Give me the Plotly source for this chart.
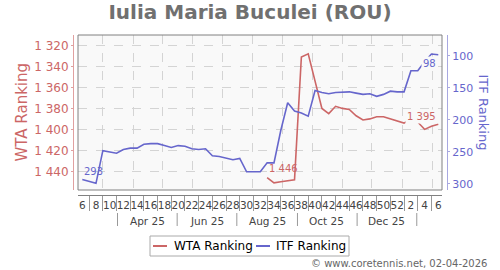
import datetime as dt
import plotly.graph_objects as go

# ---------------- data ----------------
week_labels = list(range(6, 53)) + list(range(1, 7))
itf_ranking = [293, 296, 299, 248, 250, 252, 246, 244, 244, 238, 237, 237, 240,
               243, 240, 241, 245, 246, 245, 256, 257, 259, 262, 260, 281, 281,
               281, 267, 267, 216, 173, 186, 189, 194, 154, 157, 159, 157, 157,
               156, 158, 160, 159, 163, 160, 155, 156, 156, 123, 123, 109, 97, 98]
wta_ranking = [None] * 27 + [1446, 1451, 1450, 1449, 1448, 1331, 1328, 1354, 1380,
                             1385, 1378, 1380, 1381, 1387, 1391, 1390, 1388, 1388,
                             1390, 1392, 1394, 1390, 1393, 1400, 1397, 1395]
month_labels = ["Apr 25", "Jun 25", "Aug 25", "Oct 25", "Dec 25"]
wta_ticks = [1320, 1340, 1360, 1380, 1400, 1420, 1440]
itf_ticks = [100, 150, 200, 250, 300]

first_week = dt.date(2025, 2, 8)
dates = [first_week + dt.timedelta(days=7 * i) for i in range(len(week_labels))]

# ---------------- style ----------------
RED = "#cc6666"
BLUE = "#6666cc"
RED_AX = "#e0a0a0"
BLUE_AX = "#a8a8e0"
GRID = "#d4d4d4"
FRAME = "#808080"
TXT = "#444444"
FONT = "DejaVu Sans"

W, H = 500, 270
ML, MR, MT, MB = 73, 53, 35, 75
PW, PH = W - ML - MR, H - MT - MB


def px(x):
    return (x - ML) / PW


def py(y):
    return (H - MB - y) / PH


def fmt(v):
    return f"{v:,}".replace(",", " ")


fig = go.Figure()
fig.add_trace(go.Scatter(x=dates, y=wta_ranking, mode="lines", name="WTA Ranking",
                         line=dict(color=RED, width=1.6), yaxis="y", showlegend=False,
                         connectgaps=False))
fig.add_trace(go.Scatter(x=dates, y=itf_ranking, mode="lines", name="ITF Ranking",
                         line=dict(color=BLUE, width=1.6), yaxis="y2", showlegend=False))
# invisible trace on overlay axis to carry the monthly grid
fig.add_trace(go.Scatter(x=[dates[0], dates[-1]], y=[None, None], xaxis="x2",
                         showlegend=False, hoverinfo="skip"))

x_range = [dt.datetime(2025, 2, 3, 14, 24), dt.datetime(2026, 2, 10, 19, 12)]

even_idx = list(range(0, len(dates), 2))
odd_idx = list(range(1, len(dates), 2))

month_starts = []
y_, m_ = 2025, 3
while (y_, m_) <= (2026, 2):
    month_starts.append(dt.date(y_, m_, 1))
    m_ += 1
    if m_ > 12:
        m_, y_ = 1, y_ + 1

sep_dates = [dt.date(2025, 3, 16), dt.date(2025, 5, 16), dt.date(2025, 7, 16),
             dt.date(2025, 9, 16), dt.date(2025, 11, 16), dt.date(2026, 1, 16)]
label_dates = [dt.date(2025, 4, 16), dt.date(2025, 6, 16), dt.date(2025, 8, 16),
               dt.date(2025, 10, 16), dt.date(2025, 12, 16)]

fig.update_layout(
    width=W, height=H,
    margin=dict(l=ML, r=MR, t=MT, b=MB, pad=0),
    paper_bgcolor="white", plot_bgcolor="#f9f9f9",
    font=dict(family=FONT, size=11, color=TXT),
    separators=". ",
    title=dict(text="Iulia Maria Buculei (ROU)", x=0.5, xref="container", xanchor="center",
               y=1 - 12 / H, yref="container", yanchor="middle",
               font=dict(family=FONT, size=20, color="#707070", weight="bold")),
    xaxis=dict(type="date", range=x_range, domain=[px(78), px(442)],
               anchor="free", position=0,
               tickmode="array", tickvals=[dates[i] for i in even_idx],
               ticktext=[str(week_labels[i]) for i in even_idx],
               tickangle=0, ticks="", showgrid=False, zeroline=False,
               showline=True, linecolor=FRAME, linewidth=1,
               tickfont=dict(size=10.5, color=TXT),
               minor=dict(tickmode="array", tickvals=[dates[i] for i in odd_idx],
                          ticks="outside", ticklen=15, tickcolor="#999999", tickwidth=1,
                          showgrid=False)),
    xaxis2=dict(type="date", range=x_range, overlaying="x", anchor="y",
                tickmode="array", tickvals=month_starts, showticklabels=False,
                ticks="", showgrid=True, gridcolor=GRID, griddash="dash", gridwidth=1,
                showline=False, zeroline=False),
    yaxis=dict(range=[1457.8, 1310], domain=[py(190), 1], anchor="free", position=0,
               tickmode="array", tickvals=wta_ticks, tickformat=",d",
               showgrid=True, gridcolor=GRID, griddash="dash", gridwidth=1,
               zeroline=False, showline=True, linecolor=RED_AX, linewidth=1,
               ticks="outside", ticklen=2, tickcolor=RED_AX,
               tickfont=dict(size=12, color=RED)),
    yaxis2=dict(range=[309.4, 67.2], overlaying="y", side="right", anchor="free",
                position=1, tickmode="array", tickvals=itf_ticks,
                showgrid=False, zeroline=False, showline=True, linecolor=BLUE_AX,
                linewidth=1, ticks="outside", ticklen=2, tickcolor=BLUE_AX,
                tickfont=dict(size=11, color=BLUE)),
)

shapes = [
    dict(type="rect", xref="x domain", yref="y domain", x0=0, x1=1, y0=0, y1=1,
         line=dict(color=FRAME, width=1), fillcolor="rgba(0,0,0,0)"),
]
for d in sep_dates:
    shapes.append(dict(type="line", xref="x", yref="paper", x0=d, x1=d,
                       y0=py(226), y1=py(213), line=dict(color="#999999", width=1)))
# legend box
shapes.append(dict(type="rect", xref="paper", yref="paper", x0=px(150), x1=px(349),
                   y0=py(256), y1=py(236), line=dict(color="#aaaaaa", width=1),
                   fillcolor="white"))
shapes.append(dict(type="line", xref="paper", yref="paper", x0=px(153), x1=px(167),
                   y0=py(246), y1=py(246), line=dict(color=RED, width=2)))
shapes.append(dict(type="line", xref="paper", yref="paper", x0=px(256), x1=px(270),
                   y0=py(246), y1=py(246), line=dict(color=BLUE, width=2)))

annotations = []
for d, lab in zip(label_dates, month_labels):
    annotations.append(dict(x=d, xref="x", y=py(220.7), yref="paper", text=lab,
                            showarrow=False, xanchor="center", yanchor="middle",
                            font=dict(size=10.5, color=TXT)))
annotations += [
    dict(x=px(21), y=py(112.5), xref="paper", yref="paper", text="WTA Ranking",
         textangle=-90, showarrow=False, xanchor="center", yanchor="middle",
         font=dict(size=15, color=RED)),
    dict(x=px(483), y=py(112.5), xref="paper", yref="paper", text="ITF Ranking",
         textangle=90, showarrow=False, xanchor="center", yanchor="middle",
         font=dict(size=13, color=BLUE)),
    dict(x=dates[0], y=itf_ranking[0], xref="x", yref="y2", text=fmt(itf_ranking[0]),
         showarrow=False, xanchor="left", yanchor="middle", yshift=7.6,
         font=dict(size=10, color=BLUE)),
    dict(x=dates[-1], y=itf_ranking[-1], xref="x", yref="y2", text=fmt(itf_ranking[-1]),
         showarrow=False, xanchor="right", yanchor="middle", yshift=-8.6,
         font=dict(size=10, color=BLUE), bgcolor="#f9f9f9"),
    dict(x=dates[27], y=wta_ranking[27], xref="x", yref="y", text=fmt(wta_ranking[27]),
         showarrow=False, xanchor="left", yanchor="middle", yshift=9,
         font=dict(size=10, color=RED)),
    dict(x=dates[-1], y=wta_ranking[-1], xref="x", yref="y", text=fmt(wta_ranking[-1]),
         showarrow=False, xanchor="right", yanchor="middle", yshift=7.4,
         font=dict(size=10, color=RED), bgcolor="#f9f9f9"),
    dict(x=px(172), y=py(246), xref="paper", yref="paper", text="WTA Ranking",
         showarrow=False, xanchor="left", yanchor="middle",
         font=dict(size=12, color="black")),
    dict(x=px(274), y=py(246), xref="paper", yref="paper", text="ITF Ranking",
         showarrow=False, xanchor="left", yanchor="middle",
         font=dict(size=12, color="black")),
    dict(x=px(489), y=py(263.5), xref="paper", yref="paper",
         text="© www.coretennis.net, 02-04-2026",
         showarrow=False, xanchor="right", yanchor="middle",
         font=dict(size=10, color="#666666")),
]
fig.update_layout(shapes=shapes, annotations=annotations)

fig.write_html("out.html")
